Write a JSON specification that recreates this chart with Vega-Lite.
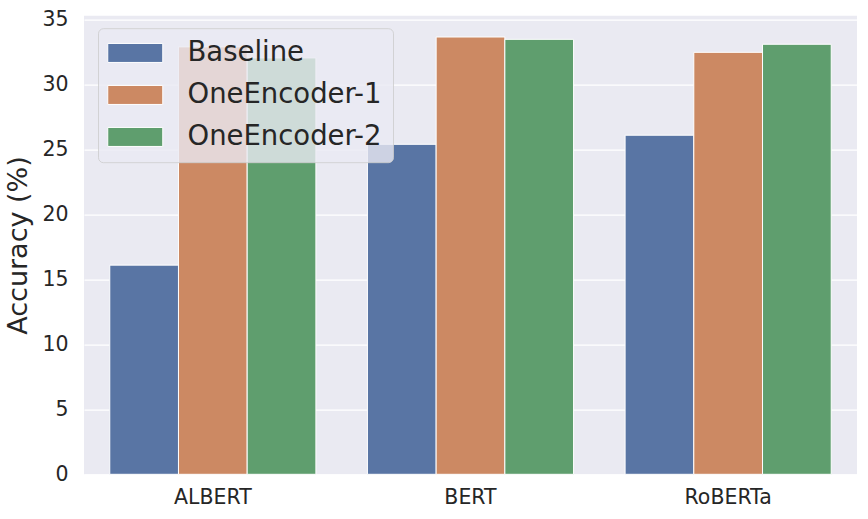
{
  "$schema": "https://vega.github.io/schema/vega-lite/v6.json",
  "autosize": {"type": "none"},
  "width": 773,
  "height": 458.6,
  "padding": {"left": 84, "top": 15.7, "right": 11, "bottom": 45},
  "background": "white",
  "config": {
    "font": "DejaVu Sans",
    "view": {"fill": "#EAEAF2", "stroke": null},
    "axis": {"labelColor": "#262626", "titleColor": "#262626", "domain": false, "ticks": false, "gridColor": "white", "gridWidth": 1.3}
  },
  "data": {"values": [
    {"model": "ALBERT", "method": "Baseline", "acc": 16.1},
    {"model": "ALBERT", "method": "OneEncoder-1", "acc": 32.9},
    {"model": "ALBERT", "method": "OneEncoder-2", "acc": 32.05},
    {"model": "BERT", "method": "Baseline", "acc": 25.4},
    {"model": "BERT", "method": "OneEncoder-1", "acc": 33.66},
    {"model": "BERT", "method": "OneEncoder-2", "acc": 33.48},
    {"model": "RoBERTa", "method": "Baseline", "acc": 26.1},
    {"model": "RoBERTa", "method": "OneEncoder-1", "acc": 32.48},
    {"model": "RoBERTa", "method": "OneEncoder-2", "acc": 33.1}
  ]},
  "mark": {"type": "bar", "stroke": "white", "strokeWidth": 1},
  "encoding": {
    "x": {"field": "model", "type": "nominal", "sort": null,
      "scale": {"paddingInner": 0.2, "paddingOuter": 0.1},
      "axis": {"title": null, "labelAngle": 0, "labelFontSize": 20.5, "labelPadding": 13, "grid": false}},
    "xOffset": {"field": "method", "type": "nominal", "sort": null, "scale": {"paddingInner": 0, "paddingOuter": 0}},
    "y": {"field": "acc", "type": "quantitative",
      "scale": {"domain": [0, 35.3], "nice": false},
      "axis": {"title": "Accuracy (%)", "titleFontSize": 27, "titleFontWeight": "normal", "titlePadding": 9, "labelFontSize": 20.5, "labelPadding": 16, "values": [0,5,10,15,20,25,30,35], "grid": true}},
    "color": {"field": "method", "type": "nominal", "sort": null,
      "scale": {"domain": ["Baseline", "OneEncoder-1", "OneEncoder-2"], "range": ["#5975a4", "#cc8963", "#5f9e6e"]},
      "legend": {"title": null, "orient": "none", "legendX": 14, "legendY": 12.5,
        "labelFontSize": 27.5, "labelColor": "#262626", "labelOffset": 51, "labelLimit": 500,
        "symbolType": "M-1.5,-0.95L4,-0.95L4,0.95L-1.5,0.95Z", "symbolSize": 400, "symbolStrokeColor": "white", "symbolStrokeWidth": 1, "symbolOpacity": 1,
        "rowPadding": 13, "padding": 11,
        "fillColor": "rgba(234,234,242,0.8)", "strokeColor": "rgba(204,204,204,0.8)", "cornerRadius": 5}}
  }
}
